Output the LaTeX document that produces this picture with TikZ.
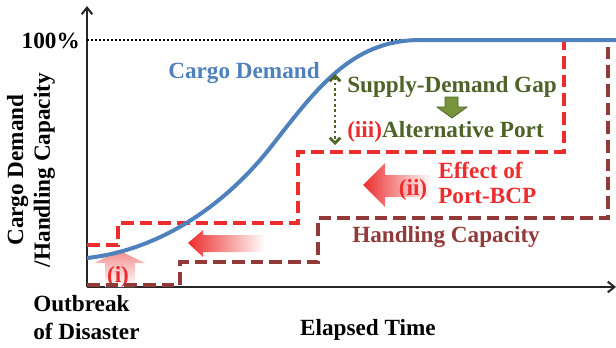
\documentclass[tikz,border=0pt]{standalone}
\usepackage{fontspec}
\setmainfont{Liberation Serif}
\usetikzlibrary{arrows.meta}

\definecolor{demandblue}{RGB}{79,129,189}
\definecolor{bcpred}{RGB}{237,45,45}
\definecolor{capbrown}{RGB}{146,58,58}
\definecolor{gapolive}{RGB}{79,98,40}
\definecolor{arrowolive}{RGB}{119,147,60}

\begin{document}
\begin{tikzpicture}[x=0.75pt,y=-0.75pt,
  axis/.style={draw=black!85,line width=1.5pt,-{Straight Barb[length=5pt,width=8pt]}},
  txt/.style={font=\fontsize{17.4}{19}\selectfont\bfseries,inner sep=0pt},
  stepline/.style={line width=3pt,dash pattern=on 9.5pt off 4.5pt},
  fadearrow/.style={left color=bcpred,right color=white},
]
\useasboundingbox (0,0) rectangle (616,347);
% axes
\coordinate (origin) at (87,287);
\coordinate (ytop) at (87,6);
\coordinate (xend) at (616,287);
\draw[axis] (origin) -- (ytop);
\draw[axis] (origin) -- (xend);
\node[txt,anchor=east] (full) at (80,41) {100\%};
\draw[black,line width=1pt,dash pattern=on 1.2pt off 1.8pt] (87,40) -- (612,40);
\node[txt,rotate=90,align=center] (ylab) at (31,170) {Cargo Demand\\[1pt]/Handling Capacity};
\node[txt,anchor=west,align=left] (outbreak) at (33,318) {Outbreak\\[2pt]of Disaster};
\node[txt,anchor=base] (xlab) at (368,335) {Elapsed Time};
% shaded arrows
\shade[top color=bcpred!55,bottom color=white] (118,250) -- (145,263) -- (135,263) -- (135,287)
  -- (105,287) -- (105,263) -- (95,263) -- cycle;
\shade[fadearrow] (188,243) -- (203,230) -- (203,235) -- (265,235) -- (265,252) -- (203,252)
  -- (203,257) -- cycle;
\shade[fadearrow] (363,185) -- (385,163) -- (385,175) -- (432,175) -- (432,197) -- (385,197)
  -- (385,207) -- cycle;
\node[txt,text=bcpred,anchor=base] (i) at (118,282) {(i)};
\node[txt,text=bcpred,anchor=base] (ii) at (413,195) {(ii)};
% handling capacity and port-BCP
\draw[stepline,capbrown] (87,285) -- (180,285) -- (180,262) -- (318,262) -- (318,218) -- (608,218) -- (608,42);
\draw[stepline,bcpred] (87,245) -- (118,245) -- (118,223) -- (298,223) -- (298,152) -- (564,152) -- (564,42);
% cargo demand
\draw[demandblue,line width=3pt] (87,258) .. controls (160,250) and (225,205) .. (270,148)
  .. controls (315,91) and (350,40) .. (420,40) -- (616,40);
\node[txt,text=demandblue,anchor=base west] (demand) at (168,78) {Cargo Demand};
% gap
\coordinate (gaptop) at (335,74);
\coordinate (gapbot) at (335,145);
\draw[gapolive,line width=2pt,dash pattern=on 2pt off 2pt,{Straight Barb[length=4pt,width=8pt]}-{Straight Barb[length=4pt,width=8pt]}] (gaptop) -- (gapbot);
\node[txt,text=gapolive,anchor=base west] (gap) at (347,92) {Supply-Demand Gap};
\filldraw[fill=arrowolive,draw=gapolive,line width=0.6pt] (445,97) -- (458,97) -- (458,107) -- (467,107)
  -- (452,118) -- (437,107) -- (445,107) -- cycle;
\node[txt,text=gapolive,anchor=base west] (alt) at (347,137) {\textcolor{bcpred}{(iii)}Alternative Port};
\node[txt,text=bcpred,anchor=west,align=left] (effect) at (438,183) {Effect of\\Port-BCP};
\node[txt,text=capbrown,anchor=base west] (capacity) at (352,242) {Handling Capacity};
\end{tikzpicture}
\end{document}
